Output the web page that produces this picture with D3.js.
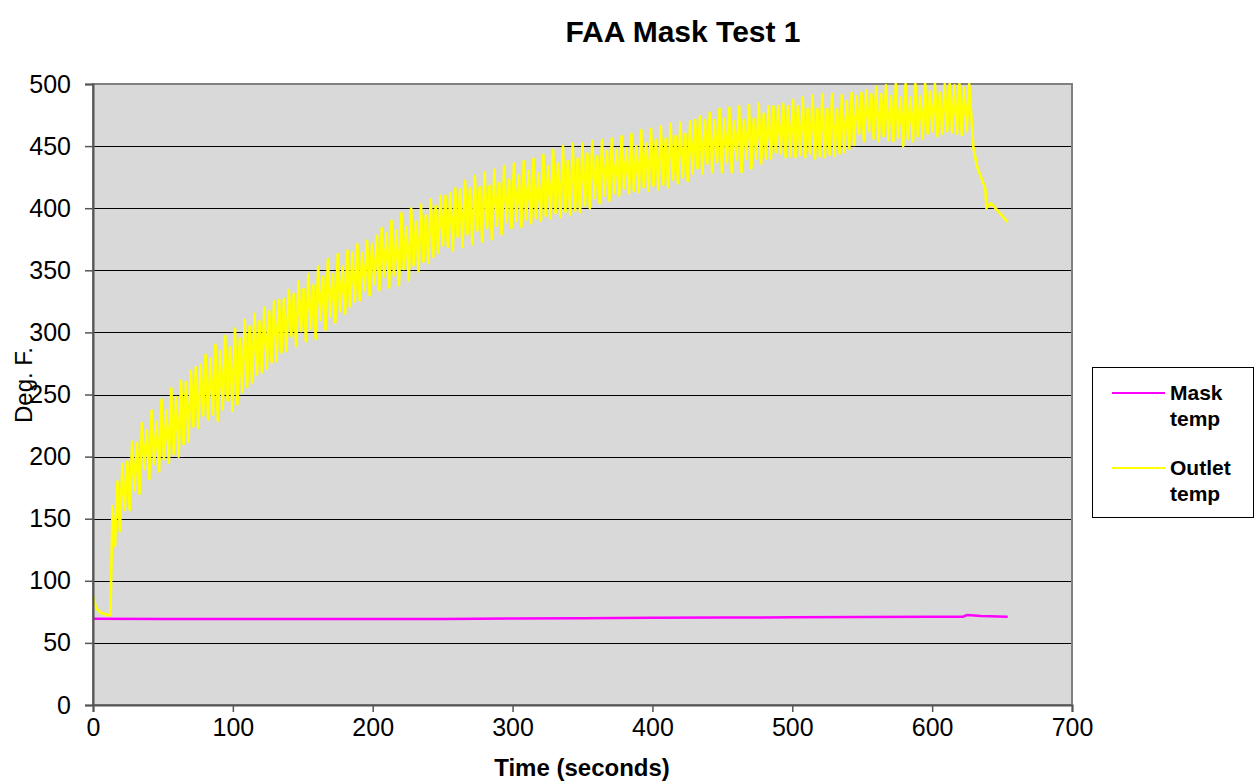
<!DOCTYPE html>
<html><head><meta charset="utf-8">
<script src="https://cdn.jsdelivr.net/npm/d3@7"></script>
<style>
body{margin:0;background:#fff;}
svg{display:block;font-family:"Liberation Sans",Arial,Helvetica,sans-serif;}
</style>
</head><body>
<svg id="chart" width="1255" height="781"></svg>
<script>
// ---------------- data ----------------
const chartTitle = "FAA Mask Test 1";
const xTitle = "Time (seconds)";
const yTitle = "Deg. F.";
const xTicks = [0, 100, 200, 300, 400, 500, 600, 700];
const yTicks = [0, 50, 100, 150, 200, 250, 300, 350, 400, 450, 500];
const seriesNames = ["Mask temp", "Outlet temp"];
const seriesColors = ["#ff00ff", "#ffff00"];

// Mask temperature (seconds, deg F)
const maskTime = [0, 50, 100, 150, 200, 250, 300, 350, 400, 450, 500, 550, 600, 622, 625, 635, 654];
const maskTemp = [69.4, 69.3, 69.2, 69.2, 69.2, 69.3, 69.6, 69.9, 70.2, 70.4, 70.6, 70.8, 71.0, 71.1, 72.4, 71.6, 71.0];

// Outlet temperature: start-up segment
const outletHeadTime = [0, 1, 3, 6, 9, 11.5, 12.5];
const outletHeadTemp = [88, 82, 77, 74, 73, 72, 73];
// Outlet temperature: cycling segment, sampled every 1.75 s from t = 14 s (peaks and troughs alternate)
const oscStart = 14, oscStep = 3.5;
const outletPeaks = [
  160, 180, 194, 196, 212, 211, 227, 221, 237, 228, 246, 237, 255, 248, 261, 260, 269, 272, 274, 282,
  279, 290, 285, 297, 288, 303, 295, 310, 305, 315, 309, 320, 317, 325, 326,
  327, 334, 331, 341, 335, 347, 338, 353, 345, 359, 347, 363, 353, 366, 364, 371, 364, 374, 371, 378,
  384, 380, 390, 382, 396, 385, 400, 389, 403, 394, 407, 402, 410, 410, 412, 416, 415, 422, 416, 426,
  417, 429, 418, 431, 420, 434, 423,
  436, 426, 438, 430, 440, 428, 443, 434, 447, 436, 450, 438, 452, 440, 452, 444, 454, 442, 455, 446,
  456, 447, 458, 448, 460, 450, 463, 452, 464, 455, 466, 456, 468, 458, 469, 460, 470,
  471, 474, 471, 477, 471, 480, 472, 481, 470, 482, 471, 483, 472, 484, 476, 482, 482, 482, 484, 482,
  487, 482, 489, 480, 491, 480, 492, 480, 492, 480, 491, 486,
  493, 490, 493, 495, 492, 498, 492, 499, 490, 500, 489, 500, 489, 500, 490, 500, 494, 500, 493, 500,
  500, 499, 500, 497, 500
];
const outletTroughs = [
  128, 140, 157, 157, 173, 170, 190, 182, 194, 188, 198, 195, 202, 200, 210, 212, 224, 223, 233, 230,
  234, 229, 238, 245, 237, 242, 252, 256, 260, 266, 268, 271, 276, 277, 284,
  285, 297, 289, 301, 293, 303, 295, 310, 302, 313, 308, 317, 315, 321, 325, 326, 334, 330, 339, 334,
  345, 336, 346, 338, 351, 342, 354, 349, 357, 356, 361, 364, 370, 369, 366, 377, 369, 379, 371, 382,
  373, 384, 375, 386, 379, 389, 384,
  390, 385, 391, 388, 392, 390, 394, 392, 396, 393, 397, 395, 398, 397, 402, 400, 408, 404, 410, 406,
  412, 410, 416, 412, 414, 413, 417, 414, 418, 415, 419, 417, 423, 420, 425, 422, 428,
  432, 428, 436, 429, 437, 429, 437, 429, 439, 429, 440, 432, 440, 436, 440, 440, 445, 444, 441, 442,
  441, 443, 441, 444, 440, 442, 441, 443, 442, 444, 445, 448,
  451, 460, 454, 462, 456, 454, 458, 455, 454, 457, 450, 456, 454, 458, 456, 460, 462, 458, 460, 462,
  461, 460, 459, 462
];
// Outlet temperature: cool-down segment
const outletTailTime = [629.5, 632, 636, 638, 638.8, 642, 654];
const outletTailTemp = [449, 434, 422, 416, 400, 404, 389];

// ---------------- build series ----------------
const maskData = maskTime.map((t, i) => ({t, v: maskTemp[i]}));
const outletData = [];
outletHeadTime.forEach((t, i) => outletData.push({t, v: outletHeadTemp[i]}));
outletPeaks.forEach((p, i) => {
  outletData.push({t: oscStart + i * oscStep, v: p});
  if (i < outletTroughs.length) outletData.push({t: oscStart + i * oscStep + oscStep / 2, v: outletTroughs[i]});
});
outletTailTime.forEach((t, i) => outletData.push({t, v: outletTailTemp[i]}));

// ---------------- layout ----------------
const svg = d3.select("#chart");
const plot = {left: 93, right: 1072, top: 84, bottom: 705};
const x = d3.scaleLinear().domain([0, 700]).range([plot.left, plot.right]);
const y = d3.scaleLinear().domain([0, 500]).range([plot.bottom, plot.top]);

svg.append("rect").attr("width", 1255).attr("height", 781).attr("fill", "#fff");

// plot background
svg.append("rect")
  .attr("x", plot.left).attr("y", plot.top)
  .attr("width", plot.right - plot.left).attr("height", plot.bottom - plot.top)
  .attr("fill", "#d9d9d9");

// gridlines
svg.append("g").selectAll("line").data(yTicks.filter(d => d > 0 && d < 500)).join("line")
  .attr("x1", plot.left).attr("x2", plot.right)
  .attr("y1", d => Math.round(y(d)) + 0.5).attr("y2", d => Math.round(y(d)) + 0.5)
  .attr("stroke", "#000").attr("stroke-width", 1);

// plot border
svg.append("rect")
  .attr("x", plot.left).attr("y", plot.top)
  .attr("width", plot.right - plot.left).attr("height", plot.bottom - plot.top)
  .attr("fill", "none").attr("stroke", "#808080").attr("stroke-width", 2);

// clip
svg.append("clipPath").attr("id", "clip").append("rect")
  .attr("x", plot.left).attr("y", plot.top - 2)
  .attr("width", plot.right - plot.left).attr("height", plot.bottom - plot.top + 2);

const line = d3.line().x(d => x(d.t)).y(d => y(d.v));
const lines = svg.append("g").attr("clip-path", "url(#clip)");
lines.append("path").datum(maskData).attr("d", line)
  .attr("fill", "none").attr("stroke", seriesColors[0]).attr("stroke-width", 2.5);
lines.append("path").datum(outletData).attr("d", line)
  .attr("fill", "none").attr("stroke", seriesColors[1]).attr("stroke-width", 2.6).attr("stroke-linejoin", "round");

// axes
const yAxis = d3.axisLeft(y).tickValues(yTicks).tickSize(8).tickPadding(14).tickFormat(d3.format("d"));
const gy = svg.append("g").attr("transform", `translate(${plot.left},0)`).call(yAxis);
const xAxis = d3.axisBottom(x).tickValues(xTicks).tickSize(7).tickPadding(6).tickFormat(d3.format("d"));
const gx = svg.append("g").attr("transform", `translate(0,${plot.bottom})`).call(xAxis);
[gx, gy].forEach(g => {
  g.select(".domain").attr("stroke", "#555").attr("stroke-width", 2);
  g.selectAll(".tick line").attr("stroke", "#555").attr("stroke-width", 1.5);
  g.selectAll(".tick text").attr("font-size", 25).attr("fill", "#000")
    .attr("font-family", '"Liberation Sans",Arial,sans-serif');
});

// titles
svg.append("text").attr("x", 683).attr("y", 42).attr("text-anchor", "middle")
  .attr("font-size", 30).attr("font-weight", "bold").text(chartTitle);
svg.append("text").attr("x", 582).attr("y", 776).attr("text-anchor", "middle")
  .attr("font-size", 24).attr("font-weight", "bold").text(xTitle);
svg.append("text").attr("transform", "translate(32,385) rotate(-90)").attr("text-anchor", "middle")
  .attr("font-size", 24).text(yTitle);

// legend
const lg = svg.append("g");
lg.append("rect").attr("x", 1092.5).attr("y", 367.5).attr("width", 161).attr("height", 150)
  .attr("fill", "#fff").attr("stroke", "#000").attr("stroke-width", 1);
const legendRows = [{y: 393, lines: ["Mask", "temp"]}, {y: 468, lines: ["Outlet", "temp"]}];
legendRows.forEach((r, i) => {
  lg.append("line").attr("x1", 1112).attr("x2", 1165).attr("y1", r.y).attr("y2", r.y)
    .attr("stroke", seriesColors[i]).attr("stroke-width", 2);
  const tx = lg.append("text").attr("x", 1170).attr("y", r.y + 7)
    .attr("font-size", 21).attr("font-weight", "bold").attr("fill", "#000");
  const parts = seriesNames[i].split(" ");
  parts.forEach((p, j) => tx.append("tspan").attr("x", 1170).attr("dy", j === 0 ? 0 : 26).text(p));
});
</script>
</body></html>
